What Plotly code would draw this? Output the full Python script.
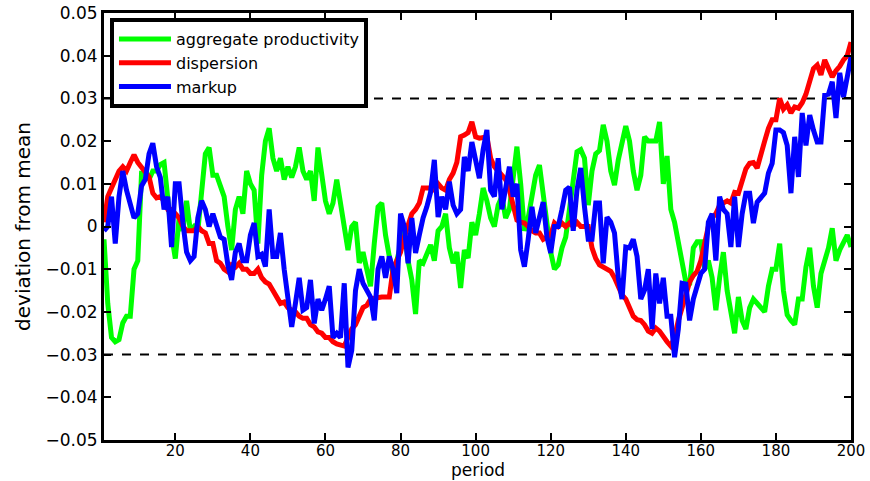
import plotly.graph_objects as go

# ---- data ----
productivity = [
    -0.003, -0.018, -0.026, -0.027, -0.0265, -0.0226, -0.021, -0.021, -0.010, -0.008,
    0.0125, 0.0125, 0.011, 0.013, 0.013, 0.0145, 0.015, 0.005, -0.002, -0.0075,
    0.002, -0.001, 0.006, -0.001, 0.000, -0.001, 0.008, 0.017, 0.0185, 0.012,
    0.012, 0.0095, 0.007, 0.000, -0.0055, 0.004, 0.007, 0.003, 0.013, 0.010,
    0.0085, -0.004, 0.012, 0.020, 0.023, 0.016, 0.013, 0.016, 0.011, 0.014,
    0.0115, 0.014, 0.0185, 0.013, 0.011, 0.013, 0.006, 0.0185, 0.0115, 0.006,
    0.003, 0.0055, 0.011, 0.006, 0.000, -0.0055, 0.000, 0.001, -0.0085, -0.006,
    -0.010, -0.014, -0.004, 0.0046, 0.0055, -0.002, -0.007, -0.011, -0.008, -0.004,
    -0.001, -0.008, -0.0125, -0.0205, -0.008, -0.0086, -0.006, -0.0043, -0.008, -0.001,
    0.000, 0.003, -0.005, -0.0086, -0.006, -0.0144, -0.0055, -0.0074, 0.001, -0.002,
    0.003, 0.009, 0.006, 0.002, 0.000, 0.005, 0.007, 0.002, 0.004, 0.011,
    0.0187, 0.010, -0.001, 0.002, 0.008, 0.012, 0.0144, 0.007, 0.001, -0.006,
    -0.010, -0.009, -0.005, -0.0025, 0.004, 0.010, 0.0175, 0.018, 0.016, 0.005,
    0.013, 0.017, 0.0178, 0.0238, 0.020, 0.013, 0.0097, 0.0156, 0.020, 0.0235,
    0.020, 0.013, 0.0085, 0.012, 0.021, 0.020, 0.020, 0.020, 0.0245, 0.010,
    0.0165, 0.004, 0.001, -0.004, -0.0095, -0.013, -0.0137, -0.005, -0.0036, -0.0036,
    -0.010, -0.008, -0.012, -0.0196, -0.012, -0.006, -0.015, -0.021, -0.025, -0.0165,
    -0.022, -0.024, -0.019, -0.017, -0.018, -0.019, -0.020, -0.014, -0.010, -0.010,
    -0.004, -0.015, -0.0207, -0.022, -0.023, -0.017, -0.017, -0.0095, -0.005, -0.014,
    -0.019, -0.011, -0.008, -0.005, -0.0004, -0.008, -0.0055, -0.004, -0.002, -0.0048,
]

dispersion = [
    0.001, 0.007, 0.009, 0.011, 0.013, 0.014, 0.013, 0.015, 0.0168, 0.015,
    0.014, 0.013, 0.0116, 0.0078, 0.0067, 0.007, 0.006, 0.004, 0.004, 0.003,
    0.002, 0.000, -0.001, -0.001, -0.001, 0.000, -0.001, -0.0015, -0.004, -0.004,
    -0.008, -0.0086, -0.010, -0.0106, -0.009, -0.0095, -0.0086, -0.010, -0.010, -0.011,
    -0.011, -0.010, -0.012, -0.013, -0.0135, -0.015, -0.0165, -0.018, -0.0177, -0.019,
    -0.0196, -0.020, -0.021, -0.0215, -0.0215, -0.023, -0.0235, -0.0247, -0.025, -0.026,
    -0.026, -0.027, -0.0275, -0.0277, -0.028, -0.026, -0.024, -0.023, -0.021, -0.019,
    -0.0185, -0.017, -0.0168, -0.0165, -0.0165, -0.0165, -0.0165, -0.010, -0.008, -0.006,
    -0.0025, 0.000, 0.003, 0.004, 0.0055, 0.009, 0.009, 0.009, 0.0085, 0.010,
    0.009, 0.0085, 0.011, 0.0125, 0.015, 0.021, 0.0214, 0.022, 0.0245, 0.021,
    0.0207, 0.021, 0.021, 0.016, 0.014, 0.013, 0.012, 0.011, 0.0085, 0.0055,
    0.0015, 0.001, 0.0008, 0.000, -0.001, -0.0015, -0.0015, -0.003, -0.0025, -0.002,
    0.0008, 0.000, 0.0008, 0.000, 0.0008, 0.000, 0.001, 0.000, 0.000, 0.000,
    -0.005, -0.0075, -0.009, -0.0094, -0.010, -0.0105, -0.012, -0.014, -0.016, -0.017,
    -0.019, -0.021, -0.0218, -0.022, -0.023, -0.0245, -0.025, -0.0238, -0.0245, -0.026,
    -0.027, -0.028, -0.026, -0.022, -0.019, -0.0165, -0.013, -0.0115, -0.0105, -0.008,
    -0.0035, 0.000, 0.002, 0.003, 0.005, 0.0055, 0.006, 0.0055, 0.008, 0.0078,
    0.011, 0.0135, 0.0148, 0.015, 0.0137, 0.0172, 0.020, 0.023, 0.025, 0.025,
    0.030, 0.0275, 0.0285, 0.0266, 0.028, 0.0277, 0.029, 0.031, 0.0345, 0.037,
    0.0378, 0.0355, 0.039, 0.037, 0.035, 0.0365, 0.0375, 0.039, 0.040, 0.0432,
]

markup = [
    -0.001, 0.000, 0.007, -0.004, 0.007, 0.013, 0.0085, 0.005, 0.002, 0.003,
    0.0095, 0.011, 0.017, 0.0195, 0.014, 0.0115, 0.004, 0.007, -0.0048, 0.010,
    0.010, 0.001, -0.006, -0.008, -0.007, 0.002, 0.006, 0.004, 0.000, 0.003,
    0.000, -0.0025, -0.003, -0.009, -0.0125, -0.006, -0.004, -0.008, -0.008, -0.002,
    0.0008, -0.007, -0.0065, -0.0094, 0.004, -0.007, -0.007, -0.0015, -0.010, -0.0165,
    -0.0235, -0.018, -0.012, -0.0196, -0.019, -0.0125, -0.0227, -0.017, -0.0196, -0.017,
    -0.014, -0.026, -0.025, -0.026, -0.0133, -0.033, -0.029, -0.015, -0.010, -0.0133,
    -0.015, -0.0165, -0.022, -0.010, -0.007, -0.012, -0.007, -0.010, -0.0156, 0.003,
    0.000, -0.0086, 0.002, -0.0062, -0.002, 0.002, 0.0046, 0.008, 0.0156, 0.0022,
    0.007, 0.004, 0.0105, 0.005, 0.003, 0.004, 0.0163, 0.013, 0.0198, 0.015,
    0.0113, 0.018, 0.0226, 0.0085, 0.007, 0.016, 0.004, 0.009, 0.014, 0.007,
    0.010, -0.0055, -0.0094, -0.003, 0.0046, -0.0015, 0.002, 0.0057, -0.0025, -0.0062,
    0.000, 0.000, 0.004, 0.0085, 0.0092, -0.001, 0.0085, 0.0137, 0.0046, -0.003,
    -0.003, 0.0055, 0.0055, -0.0086, 0.0022, 0.001, -0.0015, -0.012, -0.017, -0.0048,
    -0.005, -0.003, -0.007, -0.017, -0.0149, -0.010, -0.024, -0.011, -0.018, -0.012,
    -0.021, -0.021, -0.0306, -0.024, -0.0133, -0.0135, -0.022, -0.017, -0.014, -0.011,
    -0.010, 0.001, 0.003, -0.008, 0.007, 0.004, 0.003, -0.0048, 0.007, -0.0048,
    0.003, 0.0078, 0.0078, 0.0008, 0.0057, 0.007, 0.0078, 0.0125, 0.0148, 0.0226,
    0.0226, 0.022, 0.019, 0.0078, 0.021, 0.0116, 0.0266, 0.019, 0.0261, 0.0226,
    0.0198, 0.0198, 0.0308, 0.031, 0.0339, 0.0254, 0.036, 0.0303, 0.0348, 0.0397,
]

bands = [0.03, -0.03]
x_ticks = [20, 40, 60, 80, 100, 120, 140, 160, 180, 200]
y_ticks = [0.05, 0.04, 0.03, 0.02, 0.01, 0, -0.01, -0.02, -0.03, -0.04, -0.05]
y_labels = ["0.05", "0.04", "0.03", "0.02", "0.01", "0",
            "\u22120.01", "\u22120.02", "\u22120.03", "\u22120.04", "\u22120.05"]
x_title = "period"
y_title = "deviation from mean"

FONT = "DejaVu Sans"

fig = go.Figure()

for b in bands:
    fig.add_trace(go.Scatter(x=[1, 200], y=[b, b], mode="lines",
                             line=dict(color="black", width=2, dash="dash"),
                             showlegend=False, hoverinfo="skip"))

series = [
    ("aggregate productivity", productivity, "#00ff00"),
    ("dispersion", dispersion, "#ff0000"),
    ("markup", markup, "#0000ff"),
]
for name, vals, col in series:
    fig.add_trace(go.Scatter(x=list(range(1, len(vals) + 1)), y=vals, mode="lines",
                             name=name, line=dict(color=col, width=5)))

fig.update_layout(
    width=870, height=481,
    margin=dict(l=104, r=19, t=13, b=41),
    paper_bgcolor="white", plot_bgcolor="white",
    font=dict(family=FONT, size=17, color="black"),
    showlegend=True,
    legend=dict(x=0.008, y=0.988, xanchor="left", yanchor="top",
                bgcolor="white", bordercolor="black", borderwidth=4,
                font=dict(family=FONT, size=16, color="black"),
                itemwidth=52, tracegroupgap=0),
    annotations=[dict(text=x_title, xref="paper", yref="paper", x=0.5, y=0,
                      xanchor="center", yanchor="bottom", yshift=-41,
                      showarrow=False, borderpad=0,
                      font=dict(family=FONT, size=17, color="black"))],
)
fig.update_xaxes(range=[1, 200], tickvals=x_ticks, ticks="inside", ticklen=7,
                 tickwidth=2, tickcolor="black", showline=True, linewidth=3,
                 linecolor="black", mirror="ticks", showgrid=False, zeroline=False,
                 automargin=False, ticklabelstandoff=-5,
                 tickfont=dict(family=FONT, size=15))
fig.update_yaxes(range=[-0.05, 0.05], tickvals=y_ticks, ticktext=y_labels,
                 ticks="inside", ticklen=7, tickwidth=2, tickcolor="black",
                 showline=True, linewidth=3, linecolor="black", mirror="ticks",
                 showgrid=False, zeroline=False, automargin=False,
                 tickfont=dict(family=FONT, size=17),
                 title=dict(text=y_title, font=dict(family=FONT, size=20),
                            standoff=10))

fig.write_html("out.html")
